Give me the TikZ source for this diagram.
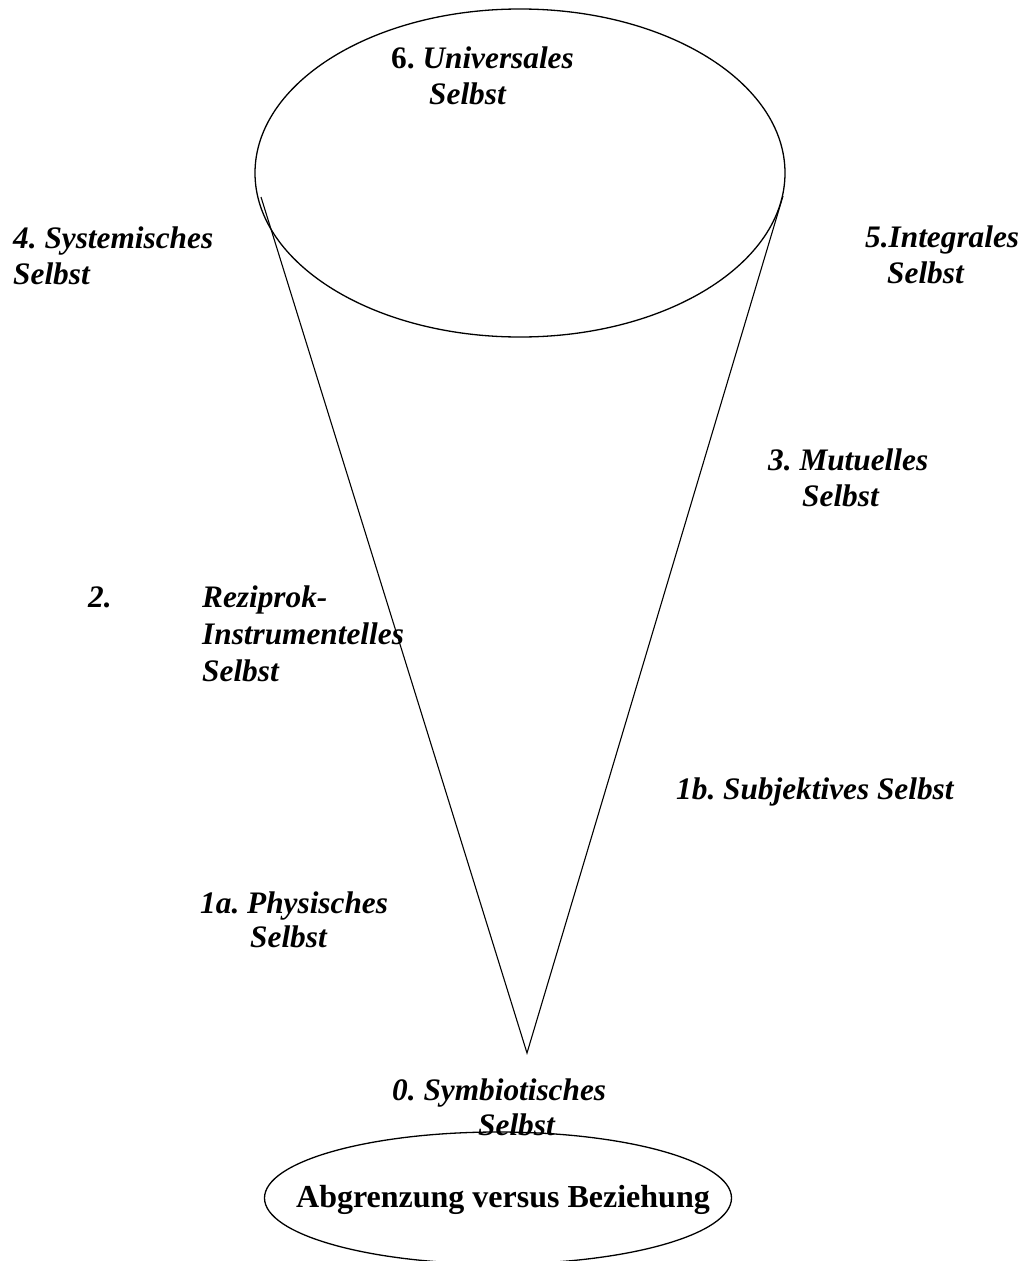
\documentclass[tikz,border=0pt]{standalone}
\usepackage{fontspec}
\setmainfont{Liberation Serif}
\usetikzlibrary{shapes.geometric}
\frenchspacing
\tikzset{
  lbl/.style={anchor=base west, inner sep=0pt, font=\fontsize{31.3pt}{36.5pt}\selectfont\bfseries\itshape},
  rim/.style={draw, ellipse, inner sep=0pt, line width=1.3pt},
  side/.style={line width=1.1pt}
}
\begin{document}
\begin{tikzpicture}[x=1pt,y=-1pt]
\useasboundingbox (0,0) rectangle (1023,1261);
% top ellipse and cone
\node[rim, minimum width=530pt, minimum height=328pt] (top) at (520,173) {};
\coordinate (cl) at (261,197);
\coordinate (cr) at (783,196);
\coordinate (tip) at (527,1053);
\draw[side] (cl) -- (tip) -- (cr);
% bottom ellipse
\node[rim, minimum width=467pt, minimum height=132pt] (base) at (498,1198) {};
\node[anchor=base, inner sep=0pt, font=\fontsize{32pt}{36pt}\selectfont\bfseries] (basetext) at (503,1207) {Abgrenzung versus Beziehung};
% labels
\node[lbl] (l6) at (391,68) {\begin{tabular}[t]{@{}l@{}}\upshape 6. \itshape Universales\\[0pt]\hspace*{38pt}Selbst\end{tabular}};
\node[lbl] (l4) at (13,248) {\begin{tabular}[t]{@{}l@{}}4. Systemisches\\Selbst\end{tabular}};
\node[lbl] (l5) at (865,247) {\begin{tabular}[t]{@{}l@{}}5.Integrales\\[0pt]\hspace*{22pt}Selbst\end{tabular}};
\node[lbl] (l3) at (768,470) {\begin{tabular}[t]{@{}l@{}}3. Mutuelles\\\hspace*{34pt}Selbst\end{tabular}};
\node[lbl] (l2) at (88,607) {\begin{tabular}[t]{@{}l@{}}\makebox[114pt][l]{2.}Reziprok-\\[1pt]\hspace*{114pt}Instrumentelles\\[0pt]\hspace*{114pt}Selbst\end{tabular}};
\node[lbl] (l1b) at (676,799) {1b. Subjektives Selbst};
\node[lbl] (l1a) at (200,913) {\begin{tabular}[t]{@{}l@{}}1a. Physisches\\[-2pt]\hspace*{50pt}Selbst\end{tabular}};
\node[lbl] (l0) at (392,1100) {\begin{tabular}[t]{@{}l@{}}0. Symbiotisches\\[-1pt]\hspace*{86pt}Selbst\end{tabular}};
\end{tikzpicture}
\end{document}
